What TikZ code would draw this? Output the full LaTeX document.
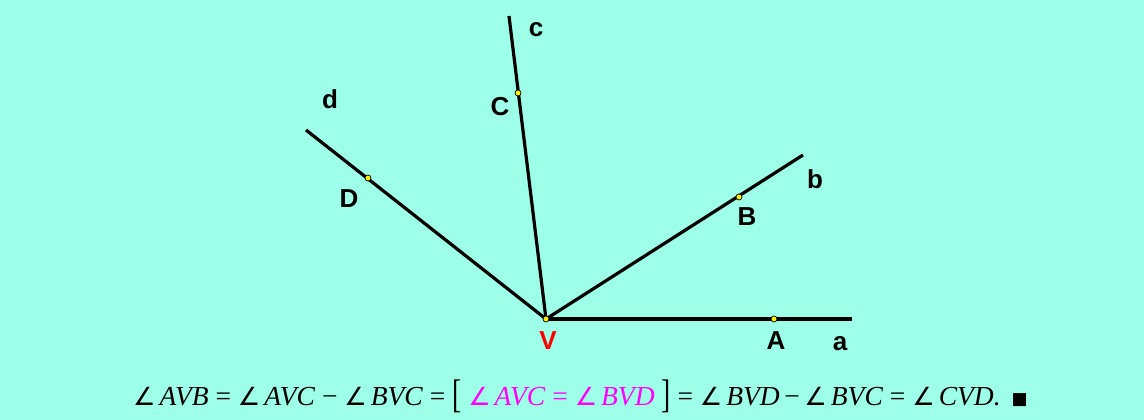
\documentclass[tikz,border=0pt]{standalone}
\usepackage{fontspec}
\setmainfont{Liberation Serif}
\newfontfamily\labelfont{Liberation Sans}
\newfontfamily\symfont{DejaVu Sans}
\usetikzlibrary{positioning}
\definecolor{bgcyan}{HTML}{9EFFE9}
\definecolor{eqpink}{HTML}{FF00FF}

\tikzset{
  ray/.style={line width=3.2pt},
  pt/.style={fill=yellow,draw=black,line width=0.7pt},
  lbl/.style={font=\labelfont\bfseries\fontsize{26}{26}\selectfont,anchor=base,inner sep=0pt},
  formula/.style={font=\itshape\fontsize{27.5}{27.5}\selectfont,anchor=base west,inner sep=0pt}
}
\newcommand{\ang}{{\upshape\symfont\fontsize{25}{25}\selectfont ∠}\hspace{4pt}}
\newcommand{\brk}[1]{\raisebox{-2pt}{\scalebox{1}[1.45]{\upshape #1}}}

\begin{document}
\begin{tikzpicture}[x=1pt,y=-1pt]
	\fill[bgcyan] (0,0) rectangle (1144,420);
	\useasboundingbox (0,0) rectangle (1144,420);
	% vertex, points on the rays, ray ends
	\coordinate (V) at (546,319);
	\coordinate (A) at (774,319);
	\coordinate (B) at (739,197);
	\coordinate (C) at (518,93);
	\coordinate (D) at (368,178);
	\coordinate (ea) at (852,319);
	\coordinate (eb) at (803,155);
	\coordinate (ec) at (509,16);
	\coordinate (ed) at (306,130);
	\foreach\e in {ea,eb,ec,ed}
	{\draw[ray] (V) -- (\e);}
	\foreach\p in {V,A,B,C,D}
	{\filldraw[pt] (\p) circle(3pt);}
	% labels
	\node[lbl,red] (lV) at (548,349) {V};
	\node[lbl] (lA) at (776,349) {A};
	\node[lbl] (la) at (840,350) {a};
	\node[lbl] (lB) at (747,225) {B};
	\node[lbl] (lb) at (815,188) {b};
	\node[lbl] (lC) at (500,115) {C};
	\node[lbl] (lc) at (536,37) {c};
	\node[lbl] (lD) at (349,207) {D};
	\node[lbl] (ld) at (330,109) {d};
	% equation
	\node[formula] (eq) at (133,405) {\ang AVB \textup{=} \ang AVC \textup{−} \ang BVC \textup{=} \brk{[} \textcolor{eqpink}{\ang AVC \textup{=} \ang BVD} \brk{]} \textup{=} \ang BVD\,\textup{−}\,\ang BVC \textup{=} \ang CVD.\hspace{4pt} {\symfont\fontsize{17}{17}\selectfont\raisebox{1pt}{■}}};
\end{tikzpicture}
\end{document}
